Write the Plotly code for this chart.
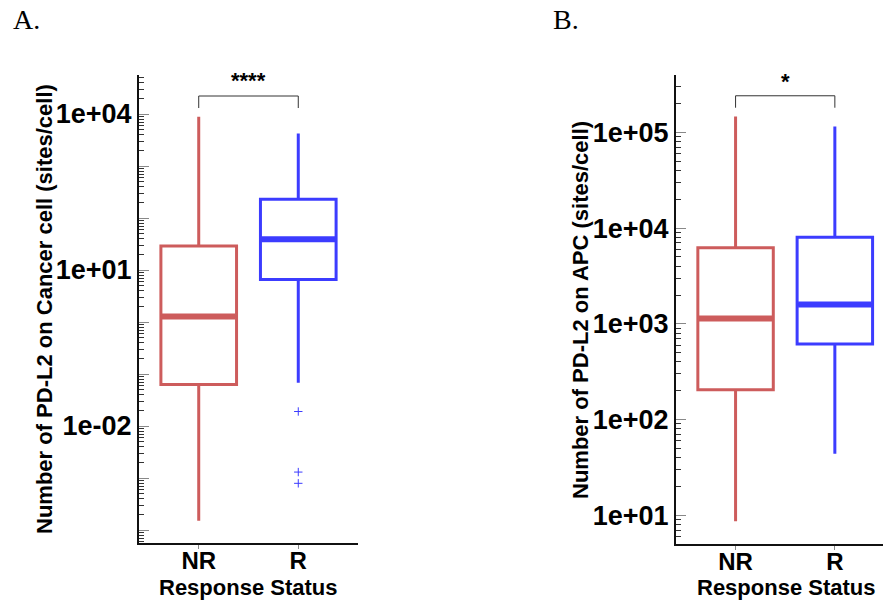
import plotly.graph_objects as go

# ---------------- data ----------------
categories = ["NR", "R"]

# Panel A: PD-L2 on Cancer cell (sites/cell)
a_q1 = [0.063, 6.6]
a_median = [1.27, 39]
a_q3 = [29, 229]
a_lower = [1.5e-4, 0.068]
a_upper = [8900, 4240]
a_outliers_R = [0.019, 0.0013, 0.00079]

# Panel B: PD-L2 on APC (sites/cell)
b_q1 = [205, 617]
b_median = [1136, 1590]
b_q3 = [6240, 8050]
b_lower = [8.65, 44]
b_upper = [147000, 115000]

a_sig = "****"
b_sig = "*"

a_ticklabels = {-2: "1e-02", 1: "1e+01", 4: "1e+04"}
b_ticklabels = {1: "1e+01", 2: "1e+02", 3: "1e+03", 4: "1e+04", 5: "1e+05"}

# ---------------- styles ----------------
W, H = 883, 601
colors = ["#CD5C5C", "#3C3CFF"]
BOXW = 0.76
FONT = "Liberation Sans"

def px_x(p):
    return p / W

def px_y(p):
    return 1 - p / H

fig = go.Figure()

def add_panel(xa, ya, q1, med, q3, lo, up):
    for i, cat in enumerate(categories):
        fig.add_trace(go.Box(
            x=[i], q1=[q1[i]], median=[med[i]], q3=[q3[i]],
            lowerfence=[lo[i]], upperfence=[up[i]],
            width=BOXW, fillcolor="white",
            line=dict(color=colors[i], width=3),
            boxpoints=False, whiskerwidth=0,
            xaxis=xa, yaxis=ya, showlegend=False, hoverinfo="skip"))
        fig.add_trace(go.Scatter(
            x=[i - BOXW / 2 + 0.01, i + BOXW / 2 - 0.01], y=[med[i], med[i]],
            mode="lines", line=dict(color=colors[i], width=6),
            xaxis=xa, yaxis=ya, showlegend=False, hoverinfo="skip"))

add_panel("x", "y", a_q1, a_median, a_q3, a_lower, a_upper)
fig.add_trace(go.Scatter(
    x=[1] * len(a_outliers_R), y=a_outliers_R, mode="markers",
    marker=dict(symbol="cross-thin", size=6, line=dict(color=colors[1], width=1)),
    xaxis="x", yaxis="y", showlegend=False, hoverinfo="skip"))
add_panel("x2", "y2", b_q1, b_median, b_q3, b_lower, b_upper)

# significance brackets
def bracket(xa, ya, ylow, yhigh, ystar, text):
    fig.add_trace(go.Scatter(
        x=[0, 0, 1, 1], y=[ylow, yhigh, yhigh, ylow], mode="lines",
        line=dict(color="#333333", width=1),
        xaxis=xa, yaxis=ya, showlegend=False, hoverinfo="skip"))
    fig.add_annotation(x=0.5, y=ystar, xref=xa, yref=ya, text=text, showarrow=False,
                       xanchor="center", yanchor="middle",
                       font=dict(family=FONT, size=22, color="black", weight="bold"))

bracket("x", "y", 10 ** 4.115, 10 ** 4.346, 4.64, a_sig)
bracket("x2", "y2", 10 ** 5.258, 10 ** 5.383, 5.53, b_sig)

def log_axes(rng, labels, lo_dec, hi_dec):
    decs = list(range(lo_dec, hi_dec + 1))
    tv = [10 ** d for d in decs]
    tt = [labels.get(d, "") for d in decs]
    minor = [k * 10 ** d for d in range(lo_dec - 1, hi_dec + 1) for k in range(2, 10)]
    return dict(type="log", range=rng, tickmode="array", tickvals=tv, ticktext=tt,
                ticks="inside", ticklen=10, tickcolor="#888888", tickwidth=1,
                showline=True, linecolor="#111111", linewidth=2, showgrid=False, zeroline=False,
                tickfont=dict(family=FONT, size=27, color="black", weight="bold"),
                minor=dict(tickmode="array", tickvals=minor, ticks="inside", ticklen=5,
                           tickcolor="#333333", tickwidth=1, showgrid=False),
                fixedrange=True)

def label_overlay(rng, labels, overlay, dom_pos):
    return dict(type="log", range=rng, overlaying=overlay, side="left", anchor="free",
                position=dom_pos, tickmode="array",
                tickvals=[10 ** d for d in labels], ticktext=["" for _ in labels],
                ticks="outside", ticklen=6, tickcolor="#888888", showline=False,
                showgrid=False, zeroline=False, showticklabels=False)

def cat_axis(dom, rng):
    return dict(domain=dom, range=rng, tickmode="array", tickvals=list(range(len(categories))),
                ticktext=categories, ticks="outside", ticklen=4, tickcolor="#888888",
                showline=True, linecolor="#111111", linewidth=2, showgrid=False, zeroline=False,
                ticklabelstandoff=-9,
                tickfont=dict(family=FONT, size=24, color="black", weight="bold"), fixedrange=True)

xa_dom = [px_x(139), px_x(358)]
xb_dom = [px_x(676), 1.0]
fig.update_layout(
    width=W, height=H, margin=dict(l=0, r=0, t=0, b=0),
    plot_bgcolor="white", paper_bgcolor="white",
    xaxis=cat_axis(xa_dom, [-0.6, 1.6]) | dict(anchor="y"),
    xaxis2=cat_axis(xb_dom, [-0.6, 1.485]) | dict(anchor="y2"),
    yaxis=log_axes([-4.25, 4.75], a_ticklabels, -4, 4) | dict(domain=[px_y(543), px_y(75)], anchor="x"),
    yaxis2=log_axes([0.70, 5.60], b_ticklabels, 1, 5) | dict(domain=[px_y(544), px_y(75)], anchor="x2"),
    yaxis3=label_overlay([-4.25, 4.75], a_ticklabels, "y", xa_dom[0]),
    yaxis4=label_overlay([0.70, 5.60], b_ticklabels, "y2", xb_dom[0]),
)

def ann(x, y, text, size, family=FONT, angle=0, bold=True, xanchor="center"):
    fig.add_annotation(x=px_x(x), y=px_y(y), xref="paper", yref="paper", showarrow=False,
                       xanchor=xanchor, yanchor="middle", text=text, textangle=angle,
                       font=dict(family=family, size=size, color="black",
                                 weight="bold" if bold else "normal"))

# axis titles
ann(44, 309, "Number of PD-L2 on Cancer cell (sites/cell)", 22, angle=-90)
ann(580, 310, "Number of PD-L2 on APC (sites/cell)", 22, angle=-90)
ann(248, 587, "Response Status", 22)
ann(786, 587, "Response Status", 22)
# panel letters
ann(11, 20, "A.", 28, family="Liberation Serif", bold=False, xanchor="left")
ann(551, 20, "B.", 28, family="Liberation Serif", bold=False, xanchor="left")

fig.write_html("out.html")
